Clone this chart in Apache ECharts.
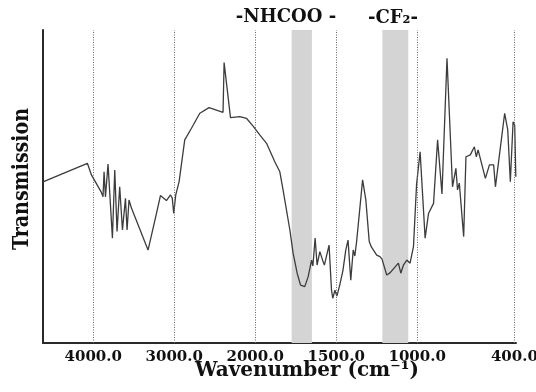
<!DOCTYPE html>
<html>
<head>
<meta charset="utf-8">
<title>FTIR spectrum</title>
<script src="https://cdn.jsdelivr.net/npm/echarts@6.0.0/dist/echarts.min.js"></script>
<style>
  html, body { margin: 0; padding: 0; background: #ffffff; }
  #chart { width: 536px; height: 392px; }
</style>
</head>
<body>
<div id="chart"></div>
<script>
// Wavenumbers (cm-1) of the traced spectrum, high to low
const wavenumbers = [
  4620, 4072, 4022, 3901, 3879, 3866, 3849, 3817, 3763, 3734, 3706, 3673, 3639, 3602, 3582, 3558, 3528,
  3323, 3228, 3170, 3096, 3046, 3024, 3006, 2981, 2940, 2870, 2787, 2684, 2570, 2397, 2384, 2305, 2190,
  2108, 2026, 1972, 1930, 1879, 1848, 1828, 1786, 1766, 1741, 1720, 1709, 1694, 1673, 1652, 1644, 1630,
  1618, 1601, 1581, 1573, 1544, 1529, 1521, 1508, 1496, 1478, 1458, 1441, 1427, 1410, 1395, 1385, 1374,
  1337, 1317, 1296, 1283, 1271, 1250, 1230, 1217, 1188, 1168, 1116, 1101, 1085, 1064, 1044, 1023, 1004,
  982, 951, 930, 899, 874, 847, 816, 782, 761, 751, 740, 713, 699, 672, 647, 635, 624, 579, 554, 528,
  517, 491, 460, 441, 425, 408, 398, 391
];
// Transmission (arbitrary units) at each wavenumber
const transmission = [
  51.5, 57.4, 53.7, 48.2, 46.7, 54.7, 46.7, 57.2, 33.5, 55.3, 35.6, 49.9, 36.1, 46.2, 36.1, 45.7, 43.1,
  29.7, 40.4, 47.1, 45.5, 47.3, 46.3, 41.4, 47.3, 51.5, 64.9, 68.6, 73.4, 75.2, 73.7, 89.6, 72.0, 72.3,
  71.8, 69.3, 66.5, 63.8, 57.9, 54.7, 48.9, 36.1, 28.7, 22.3, 18.5, 18.8, 18.0, 21.2, 26.5, 24.6, 33.5,
  24.9, 29.2, 26.0, 24.9, 31.3, 16.9, 14.3, 16.9, 15.0, 18.5, 23.3, 29.7, 32.9, 20.1, 29.7, 27.8, 32.4,
  52.1, 45.7, 32.4, 30.7, 30.3, 28.1, 27.6, 26.8, 21.7, 22.4, 25.5, 22.3, 24.9, 26.5, 25.5, 30.8, 50.5,
  61.1, 33.5, 41.4, 44.6, 64.9, 47.6, 91.0, 49.9, 55.8, 48.9, 51.1, 34.0, 59.5, 60.1, 62.7, 59.5, 61.7,
  52.6, 56.9, 56.9, 49.9, 60.6, 73.4, 68.1, 51.5, 70.7, 69.6, 53.1
];
// Tick labels on the wavenumber axis
const tickLabels = [4000, 3000, 2000, 1500, 1000, 400];
// Highlighted absorption bands [from, to] in cm-1
const bandNHCOO = [1775, 1650];
const bandCF2 = [1215, 1055];
const bandNames = ['-NHCOO -', '-CF\u2082-'];

// The wavenumber axis changes scale at 2000 cm-1 (1000 cm-1 per unit above, 500 cm-1 per unit below)
const AXIS_START = 4620, BREAK = 2000;
const U_BREAK = (AXIS_START - BREAK) / 1000;
function toAxis(w) {
  return w >= BREAK ? (AXIS_START - w) / 1000 : U_BREAK + (BREAK - w) / 500;
}
function fromAxis(u) {
  return u <= U_BREAK ? AXIS_START - u * 1000 : BREAK - (u - U_BREAK) * 500;
}

const seriesData = wavenumbers.map((w, i) => [toAxis(w), transmission[i]]);
const serif = '"DejaVu Serif", "Liberation Serif", serif';

const chart = echarts.init(document.getElementById('chart'), null, { renderer: 'canvas' });
chart.setOption({
  animation: false,
  backgroundColor: '#ffffff',
  grid: { left: 43, right: 20, top: 30, bottom: 49, containLabel: false, outerBoundsMode: 'none' },
  xAxis: {
    type: 'value',
    min: 0,
    max: 5.84,
    axisLine: { show: true, lineStyle: { color: '#2a2a2a', width: 2 } },
    axisTick: { show: false },
    splitLine: { show: false },
    axisLabel: {
      show: true,
      customValues: tickLabels.map(toAxis),
      formatter: v => (Math.round(fromAxis(v) * 10) / 10).toFixed(1),
      color: '#111',
      fontFamily: serif,
      fontWeight: 'bold',
      fontSize: 15,
      margin: 7
    }
  },
  yAxis: {
    type: 'value',
    min: 0,
    max: 100,
    axisLine: { show: true, lineStyle: { color: '#2a2a2a', width: 2 } },
    axisTick: { show: false },
    axisLabel: { show: false },
    splitLine: { show: false }
  },
  series: [
    {
      // shaded bands
      type: 'line',
      data: [],
      z: 1,
      silent: true,
      markArea: {
        silent: true,
        itemStyle: { color: '#d4d4d4' },
        data: [
          [{ xAxis: toAxis(bandNHCOO[0]) }, { xAxis: toAxis(bandNHCOO[1]) }],
          [{ xAxis: toAxis(bandCF2[0]) }, { xAxis: toAxis(bandCF2[1]) }]
        ]
      }
    },
    {
      // dotted reference lines at the labelled wavenumbers
      type: 'line',
      data: [],
      z: 2,
      silent: true,
      markLine: {
        silent: true,
        symbol: ['none', 'none'],
        label: { show: false },
        lineStyle: { color: '#666', width: 1, type: [1, 1.5] },
        data: tickLabels.map(w => ({ xAxis: toAxis(w) }))
      }
    },
    {
      name: 'Transmission',
      type: 'line',
      data: seriesData,
      z: 3,
      showSymbol: false,
      symbol: 'none',
      lineStyle: { color: '#3c3c3c', width: 1.3 },
      smooth: false
    }
  ],
  graphic: [
    {
      type: 'text', x: 286, y: 17,
      style: {
        text: bandNames[0], font: 'bold 18px ' + serif, fill: '#111',
        align: 'center', verticalAlign: 'middle', textAlign: 'center', textVerticalAlign: 'middle'
      }
    },
    {
      type: 'text', x: 393, y: 18,
      style: {
        text: bandNames[1], font: 'bold 18px ' + serif, fill: '#111',
        align: 'center', verticalAlign: 'middle', textAlign: 'center', textVerticalAlign: 'middle'
      }
    },
    {
      type: 'text', x: 22, y: 179, rotation: Math.PI / 2, scaleY: 1.2,
      style: {
        text: 'Transmission', font: 'bold 19px ' + serif, fill: '#111',
        align: 'center', verticalAlign: 'middle', textAlign: 'center', textVerticalAlign: 'middle'
      }
    },
    {
      type: 'text', x: 307, y: 371,
      style: {
        text: 'Wavenumber (cm\u207B\u00B9)', font: 'bold 20px ' + serif, fill: '#111',
        align: 'center', verticalAlign: 'middle', textAlign: 'center', textVerticalAlign: 'middle'
      }
    }
  ]
});
</script>
</body>
</html>
